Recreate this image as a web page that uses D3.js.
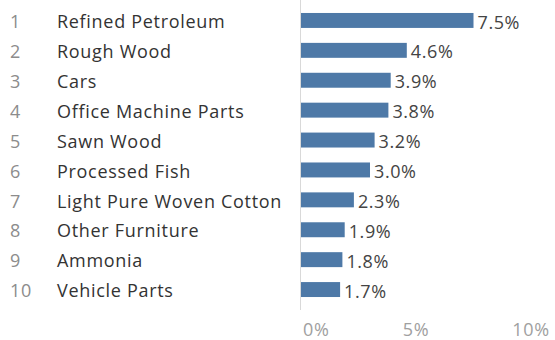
<!DOCTYPE html>
<html>
<head>
<meta charset="utf-8">
<script src="https://cdn.jsdelivr.net/npm/d3@7"></script>
<style>
  body { margin: 0; background: #fff; }
  text { font-family: "Open Sans", sans-serif; }
</style>
</head>
<body>
<svg id="chart" width="555" height="340"></svg>
<script>
"use strict";

// Data
var ranks = [1, 2, 3, 4, 5, 6, 7, 8, 9, 10];
var products = ["Refined Petroleum", "Rough Wood", "Cars", "Office Machine Parts", "Sawn Wood",
                "Processed Fish", "Light Pure Woven Cotton", "Other Furniture", "Ammonia", "Vehicle Parts"];
var shares = [7.5, 4.6, 3.9, 3.8, 3.2, 3.0, 2.3, 1.9, 1.8, 1.7];
var tickValues = [0, 5, 10];

var svg = d3.select("#chart");

var x = d3.scaleLinear()
    .domain([0, 10])
    .range([301, 531]);

var y = d3.scaleBand()
    .domain(d3.range(products.length))
    .range([5.5, 304.5])
    .paddingInner(0.5)
    .paddingOuter(0.25);

function rowMid(i) { return y(i) + y.bandwidth() / 2; }

// axis line
svg.append("line")
    .attr("x1", 300.5).attr("x2", 300.5)
    .attr("y1", 0).attr("y2", 310)
    .attr("stroke", "#d9d9d9")
    .attr("stroke-width", 1);

var rows = svg.selectAll(".row")
    .data(products)
    .enter()
    .append("g")
    .attr("class", "row");

// rank numbers
rows.append("text")
    .attr("x", 10)
    .attr("y", function (d, i) { return rowMid(i); })
    .attr("dy", "0.43em")
    .attr("font-size", 18)
    .attr("letter-spacing", 0.6)
    .attr("fill", "#8c8c8c")
    .text(function (d, i) { return ranks[i]; });

// product names
rows.append("text")
    .attr("x", 57)
    .attr("y", function (d, i) { return rowMid(i); })
    .attr("dy", "0.43em")
    .attr("font-size", 18)
    .attr("letter-spacing", 0.7)
    .attr("fill", "#333")
    .text(function (d) { return d; });

rows.append("rect")
    .attr("x", x(0))
    .attr("y", function (d, i) { return y(i); })
    .attr("width", function (d, i) { return x(shares[i]) - x(0); })
    .attr("height", y.bandwidth())
    .attr("fill", "#4e79a7");

// value labels
rows.append("text")
    .attr("x", function (d, i) { return x(shares[i]) + 4; })
    .attr("y", function (d, i) { return rowMid(i); })
    .attr("dy", "0.45em")
    .attr("font-size", 18)
    .attr("letter-spacing", 0.6)
    .attr("fill", "#444")
    .text(function (d, i) { return shares[i].toFixed(1) + "%"; });

// x axis tick labels
svg.selectAll(".tick-label")
    .data(tickValues)
    .enter()
    .append("text")
    .attr("class", "tick-label")
    .attr("x", function (d) { return d === 0 ? x(d) + 2 : x(d); })
    .attr("y", 336)
    .attr("text-anchor", function (d) { return d === 0 ? "start" : "middle"; })
    .attr("font-size", 18)
    .attr("letter-spacing", 0.6)
    .attr("fill", "#a0a0a0")
    .text(function (d) { return d + "%"; });
</script>
</body>
</html>
